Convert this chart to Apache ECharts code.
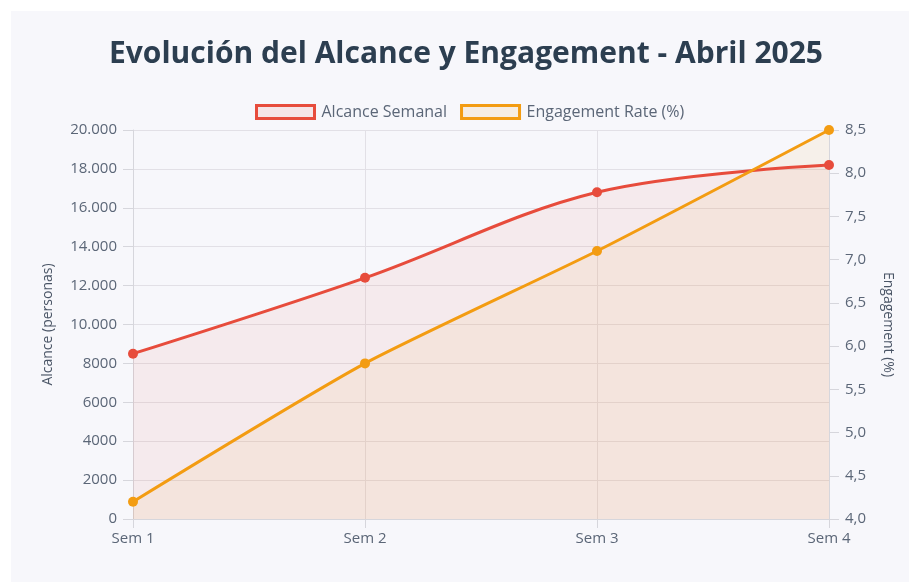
<!DOCTYPE html>
<html>
<head>
<meta charset="utf-8">
<script src="https://cdn.jsdelivr.net/npm/echarts@6/dist/echarts.min.js"></script>
<style>
  html, body { margin: 0; padding: 0; background: #ffffff; }
  #main { width: 909px; height: 582px; }
</style>
</head>
<body>
<div id="main"></div>
<script>
"use strict";

const weeks = ["Sem 1", "Sem 2", "Sem 3", "Sem 4"];
const alcance = [8500, 12400, 16800, 18200];
const engagement = [4.2, 5.8, 7.1, 8.5];

let myChart = echarts.init(document.getElementById("main"));

const font = "'Open Sans', 'Noto Sans', sans-serif";
const labelColor = "#5b6677";

function fmtAlcance(v) {
  // es-ES style: separator only from 10.000 up
  if (v >= 10000) return String(v).replace(/\B(?=(\d{3})+(?!\d))/g, ".");
  return String(v);
}

let option = {
  backgroundColor: "#ffffff",
  textStyle: { fontFamily: font },
  graphic: [
    {
      type: "rect",
      left: 11,
      top: 11,
      z: -10,
      shape: { width: 898, height: 571 },
      style: { fill: "#f7f7fb" },
    },
  ],
  title: {
    text: "Evolución del Alcance y Engagement - Abril 2025",
    left: 104,
    top: 34,
    textStyle: {
      fontSize: 30,
      fontWeight: "bold",
      color: "#2c3e50",
      fontFamily: font,
    },
  },
  legend: {
    top: 99,
    left: 250,
    itemWidth: 58,
    itemHeight: 13,
    itemGap: 13,
    textStyle: { fontSize: 16, color: labelColor, padding: [0, 0, 0, 2] },
    data: [
      {
        name: "Alcance Semanal",
        icon: "rect",
        itemStyle: { color: "rgba(231,76,60,0.1)", borderColor: "#e74c3c", borderWidth: 3 },
      },
      {
        name: "Engagement Rate (%)",
        icon: "rect",
        itemStyle: { color: "rgba(243,156,18,0.1)", borderColor: "#f39c12", borderWidth: 3 },
      },
    ],
  },
  grid: {
    left: 133,
    right: 80,
    top: 130,
    bottom: 63,
  },
  xAxis: {
    type: "category",
    boundaryGap: false,
    data: weeks,
    axisLine: { lineStyle: { color: "#d6d6dc" } },
    axisTick: { show: true, length: 9, lineStyle: { color: "#d6d6dc" } },
    axisLabel: { color: labelColor, fontSize: 15, margin: 12 },
    splitLine: { show: true, lineStyle: { color: "#e2e0e6" } },
  },
  yAxis: [
    {
      type: "value",
      min: 0,
      max: 20000,
      interval: 2000,
      name: "Alcance (personas)",
      nameLocation: "middle",
      nameGap: 78,
      nameTextStyle: { color: "#4a5566", fontSize: 14 },
      axisLine: { show: true, lineStyle: { color: "#d6d6dc" } },
      axisTick: { show: true, length: 10, lineStyle: { color: "#d6d6dc" } },
      axisLabel: { color: labelColor, fontSize: 15, margin: 16, formatter: fmtAlcance },
      splitLine: { lineStyle: { color: "#e2e0e6" } },
    },
    {
      type: "value",
      position: "right",
      min: 4,
      max: 8.5,
      interval: 0.5,
      name: "Engagement (%)",
      nameLocation: "middle",
      nameRotate: -90,
      nameGap: 52,
      nameTextStyle: { color: "#4a5566", fontSize: 14 },
      axisLine: { show: true, lineStyle: { color: "#d6d6dc" } },
      axisTick: { show: true, length: 10, lineStyle: { color: "#d6d6dc" } },
      axisLabel: {
        color: labelColor,
        fontSize: 15,
        margin: 16,
        formatter: (v) => v.toFixed(1).replace(".", ","),
      },
      splitLine: { show: false },
    },
  ],
  series: [
    {
      name: "Alcance Semanal",
      type: "line",
      yAxisIndex: 0,
      data: alcance,
      smooth: 0.35,
      symbol: "circle",
      symbolSize: 10,
      itemStyle: { color: "#e74c3c" },
      lineStyle: { width: 3, color: "#e74c3c" },
      areaStyle: { color: "rgba(231,76,60,0.1)" },
    },
    {
      name: "Engagement Rate (%)",
      type: "line",
      yAxisIndex: 1,
      data: engagement,
      smooth: 0.2,
      symbol: "circle",
      symbolSize: 10,
      itemStyle: { color: "#f39c12" },
      lineStyle: { width: 3, color: "#f39c12" },
      areaStyle: { color: "rgba(243,156,18,0.1)" },
    },
  ],
};

option && myChart.setOption(option);
</script>
</body>
</html>
